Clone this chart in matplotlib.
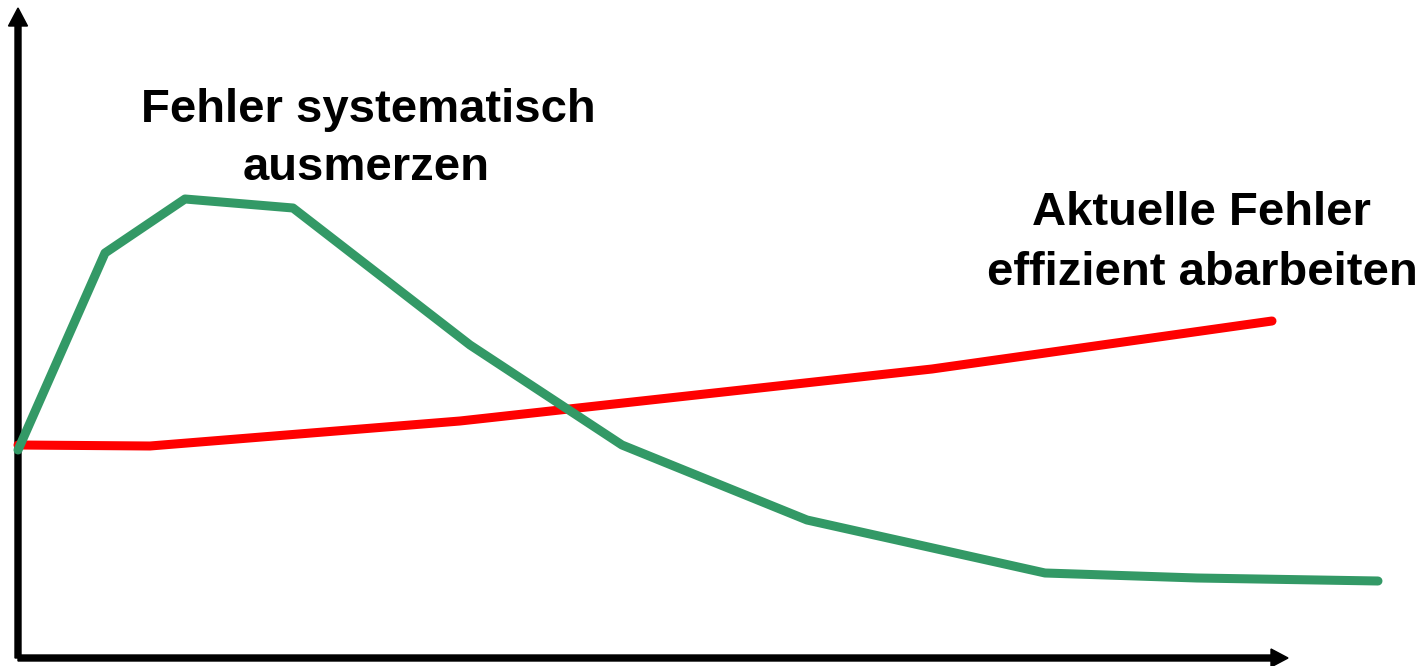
import matplotlib
matplotlib.use("Agg")
import matplotlib.pyplot as plt

# Data (arbitrary units: horizontal position and height above the x-axis)
green_x = [0, 87, 167, 275, 452, 604, 789, 1027, 1179, 1360]
green_y = [208, 405, 459, 450, 313, 213, 138, 85, 80, 77]

red_x = [0, 132, 442, 914, 1254]
red_y = [213, 212, 237, 289, 337]

label_green = ["Fehler systematisch", "ausmerzen"]
label_red = ["Aktuelle Fehler", "effizient abarbeiten"]

fig = plt.figure(figsize=(14.28, 6.66), dpi=100)
ax = fig.add_axes([0, 0, 1, 1])
ax.set_xlim(-18, 1410)
ax.set_ylim(-8, 658)
ax.axis("off")

# axes arrows
ax.arrow(0, 0, 0, 650, width=6, head_width=19, head_length=18,
         length_includes_head=True, color="black", zorder=1)
ax.arrow(0, 0, 1270, 0, width=6, head_width=18, head_length=17,
         length_includes_head=True, color="black", zorder=1)

ax.plot(red_x, red_y, color="#FF0000", lw=6.5, solid_capstyle="round",
        solid_joinstyle="round", zorder=3)
ax.plot(green_x, green_y, color="#339966", lw=6.5, solid_capstyle="round",
        solid_joinstyle="round", zorder=4)

font = dict(family=["Liberation Sans", "DejaVu Sans"], weight="bold",
            fontsize=34, color="black", ha="center", va="baseline")
ax.text(350, 536, label_green[0], **font)
ax.text(348, 478, label_green[1], **font)
ax.text(1183, 433, label_red[0], **font)
ax.text(1184, 373, label_red[1], **font)

fig.savefig("out.png", dpi=100)
